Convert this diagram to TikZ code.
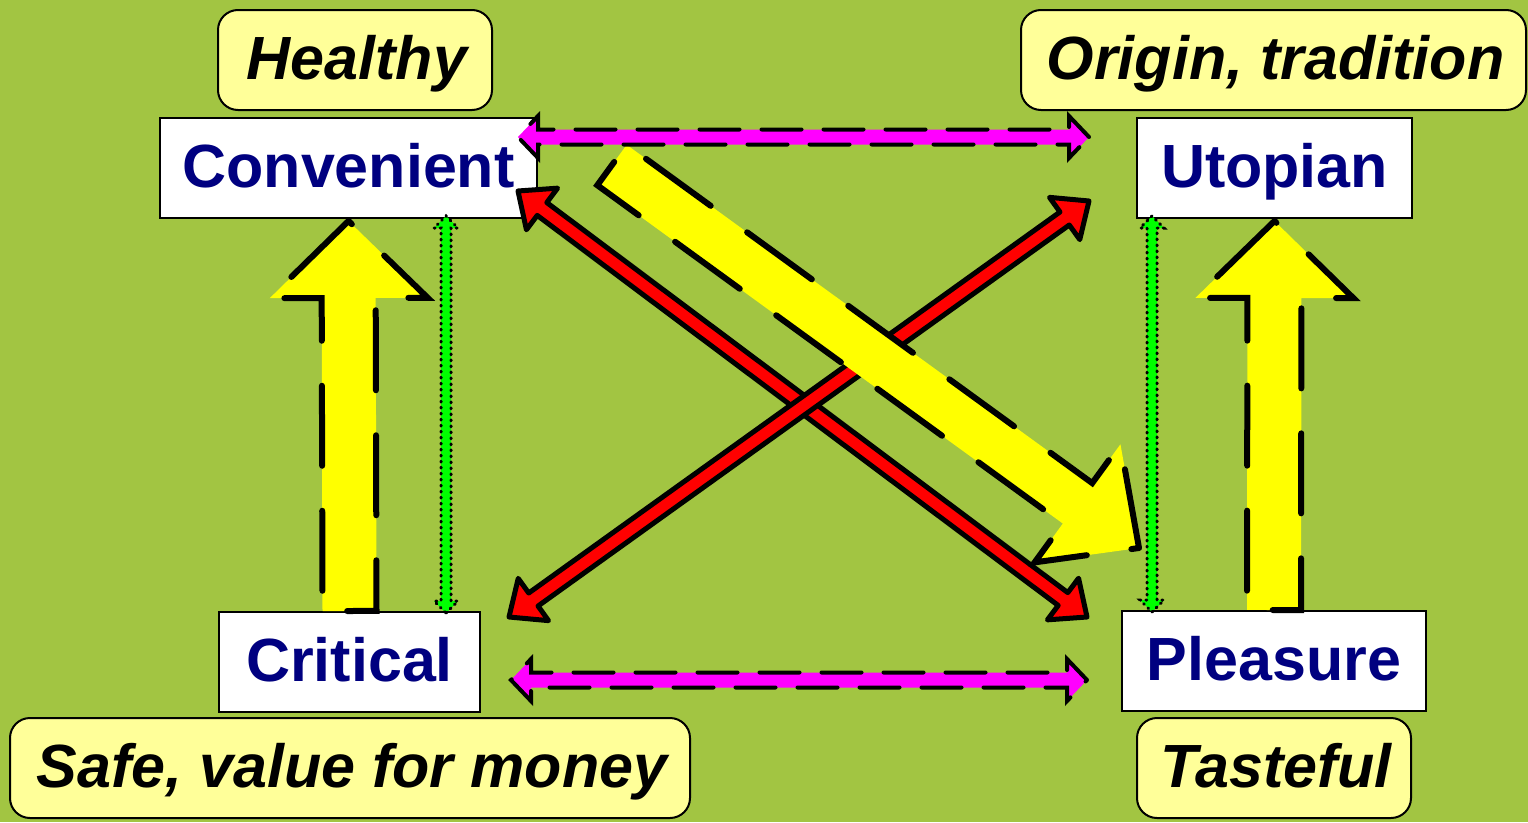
\documentclass[tikz,border=0pt]{standalone}
\usepackage{fontspec}
\setmainfont{Liberation Sans}
\usepackage{tikz}
\usetikzlibrary{calc}

\definecolor{bggreen}{RGB}{162,197,66}
\definecolor{navy}{RGB}{0,0,128}
\definecolor{lightyel}{RGB}{255,255,153}
\definecolor{arryel}{RGB}{255,255,0}
\definecolor{arrred}{RGB}{255,0,0}
\definecolor{arrpink}{RGB}{255,0,255}
\definecolor{arrgreen}{RGB}{0,255,0}

% one-headed block arrow: style, tail, tip, shaft half width, head half width, head length
\newcommand{\blockarrow}[6]{%
  \coordinate (ba-t) at (#2);
  \coordinate (ba-h) at (#3);
  \coordinate (ba-b) at ($(ba-h)!#6!(ba-t)$);
  \draw[#1] (ba-h) -- ($(ba-b)!#5!90:(ba-h)$) -- ($(ba-b)!#4!90:(ba-h)$)
    -- ($(ba-t)!#4!90:(ba-h)$) -- ($(ba-t)!#4!-90:(ba-h)$)
    -- ($(ba-b)!#4!-90:(ba-h)$) -- ($(ba-b)!#5!-90:(ba-h)$) -- cycle;
}
% two-headed block arrow: style, end a, end b, shaft half width, head half width, head length
\newcommand{\dblarrow}[6]{%
  \coordinate (da-a) at (#2);
  \coordinate (da-b) at (#3);
  \coordinate (da-p) at ($(da-b)!#6!(da-a)$);
  \coordinate (da-q) at ($(da-a)!#6!(da-b)$);
  \draw[#1] (da-b) -- ($(da-p)!#5!90:(da-b)$) -- ($(da-p)!#4!90:(da-b)$)
    -- ($(da-q)!#4!90:(da-b)$) -- ($(da-q)!#5!90:(da-b)$) -- (da-a)
    -- ($(da-q)!#5!-90:(da-b)$) -- ($(da-q)!#4!-90:(da-b)$)
    -- ($(da-p)!#4!-90:(da-b)$) -- ($(da-p)!#5!-90:(da-b)$) -- cycle;
}

\tikzset{
  box/.style={draw=black, line width=2pt, fill=white, text=navy, inner sep=0pt,
    minimum height=100pt, text height=44pt, text depth=6pt,
    font=\fontsize{61}{61}\selectfont\bfseries},
  tag/.style={draw=black, line width=2pt, fill=lightyel, rounded corners=20pt,
    inner sep=0pt, minimum height=100pt, text height=44pt, text depth=6pt,
    font=\fontsize{61}{61}\selectfont\bfseries\itshape},
  fat/.style={fill=arryel, draw=black, line width=6pt, line cap=round,
    dash pattern=on 80pt off 45pt},
  redarr/.style={fill=arrred, draw=black, line width=5pt, line join=round},
  pinkarr/.style={fill=arrpink, draw=black, line width=4pt, line cap=round,
    dash pattern=on 40pt off 22pt},
  greenarr/.style={fill=arrgreen, draw=black, line width=3pt, line cap=round,
    dash pattern=on 1pt off 5pt}
}

\begin{document}
\begin{tikzpicture}[x=1pt,y=-1pt]

\fill[bggreen] (0,0) rectangle (1528,822);
\useasboundingbox (0,0) rectangle (1528,822);

  % labels
  \node[tag,minimum width=274pt] (hlth) at (355,60) {\hspace{4pt}Healthy};
  \node[tag,minimum width=505pt] (orig) at (1273.5,60) {\hspace{4pt}Origin, tradition};
  \node[tag,minimum width=680pt] (safe) at (350,768) {\hspace{4pt}Safe, value for money};
  \node[tag,minimum width=274pt] (tast) at (1274,768) {\hspace{4pt}Tasteful};

  % the four types
  \node[box,minimum width=377pt] (conv) at (348.5,168) {Convenient};
  \node[box,minimum width=275pt] (utop) at (1274.5,168) {Utopian};
  \node[box,minimum width=261pt] (crit) at (349.5,662) {Critical};
  \node[box,minimum width=304pt] (pleas) at (1274,661) {Pleasure};

  % yellow moves
  \blockarrow{fat}{crit.north}{[shift={(0,2)}]conv.south}{27pt}{79pt}{77pt}
  \blockarrow{fat}{pleas.north}{[shift={(0,2)}]utop.south}{27pt}{79pt}{77pt}

  % red oppositions
  \dblarrow{redarr}{[shift={(-20,-28)}]conv.south east}{[shift={(-34,7)}]pleas.north west}{8pt}{26pt}{30pt}
  \dblarrow{redarr}{[shift={(-47,-18)}]utop.south west}{[shift={(28,6)}]crit.north east}{8pt}{26pt}{30pt}

  \blockarrow{fat}{[shift={(74,-3)}]conv.east}{[shift={(18,-62)}]pleas.north west}{25pt}{73pt}{76pt}

  % magenta links
  \dblarrow{pinkarr}{[shift={(-20,-31)}]conv.east}{[shift={(-47,-31)}]utop.west}{7.5pt}{21pt}{20pt}
  \dblarrow{pinkarr}{[shift={(30,18)}]crit.east}{[shift={(-34,19)}]pleas.west}{7.5pt}{21pt}{20pt}

  % green links
  \dblarrow{greenarr}{[shift={(97.5,-3)}]conv.south}{[shift={(96.5,2)}]crit.north}{5pt}{12pt}{12pt}
  \dblarrow{greenarr}{[shift={(-122.5,-3)}]utop.south}{[shift={(-122,2)}]pleas.north}{5pt}{12pt}{12pt}

\end{tikzpicture}
\end{document}
